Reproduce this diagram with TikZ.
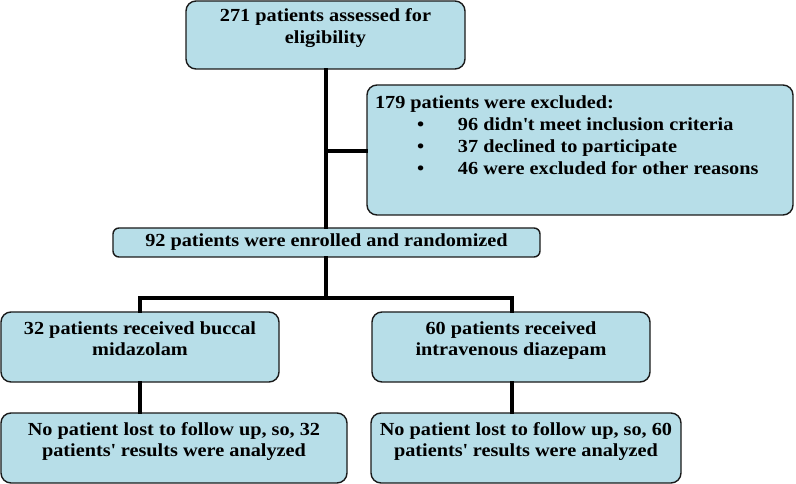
\documentclass[tikz,border=0pt]{standalone}
\usepackage{fontspec}
\setmainfont{Liberation Serif}[FakeStretch=1.1]
\definecolor{boxfill}{HTML}{B7DEE8}
\definecolor{boxline}{HTML}{1A1A1A}
\newcommand{\boxtxt}[4]{\parbox[c][#2][t]{#1}{\centering\rule{0pt}{#3}#4\par}}
\newcommand{\apos}{\textquotesingle}
\tikzset{
  flowbox/.style={draw=boxline, line width=1.4bp, fill=boxfill, rounded corners=10bp, inner sep=0pt, font=\bfseries\fontsize{18.5}{22}\selectfont},
  conn/.style={line width=4bp, draw=black, line cap=rect}
}
\begin{document}
\begin{tikzpicture}[x=1bp,y=-1bp]
\useasboundingbox (0,0) rectangle (796,484);
\node[flowbox] (assess) at (325.5,35) {\boxtxt{279bp}{68bp}{21bp}{271 patients assessed for\\eligibility}};
\node[flowbox] (excl) at (580,150) {\parbox[c][130bp][t]{426bp}{\raggedright\hspace*{8bp}\rule{0pt}{24bp}179 patients were excluded:\\
\hspace*{50bp}\makebox[41bp][l]{•}96 didn\apos t meet inclusion criteria\\
\hspace*{50bp}\makebox[41bp][l]{•}37 declined to participate\\
\hspace*{50bp}\makebox[41bp][l]{•}46 were excluded for other reasons\par}};
\node[flowbox, rounded corners=6bp] (enrol) at (326.5,242.5) {\boxtxt{427bp}{29bp}{19bp}{92 patients were enrolled and randomized}};
\node[flowbox] (buccal) at (140,347) {\boxtxt{278bp}{70bp}{22bp}{32 patients received buccal\\midazolam}};
\node[flowbox] (iv) at (511,347) {\boxtxt{278bp}{70bp}{22bp}{60 patients received\\intravenous diazepam}};
\node[flowbox] (resL) at (174,448) {\boxtxt{346bp}{70bp}{22bp}{No patient lost to follow up, so, 32\\patients\apos{} results were analyzed}};
\node[flowbox] (resR) at (526,448) {\boxtxt{310bp}{70bp}{22bp}{No patient lost to follow up, so, 60\\patients\apos{} results were analyzed}};
\coordinate (trunk) at (326,0);
\coordinate (split) at (326,298);
\coordinate (lx) at (140,0);
\coordinate (rx) at (512,0);
\draw[conn] (assess.south -| trunk) -- (enrol.north -| trunk);
\draw[conn] (excl.west |- 0,151) -- (trunk |- 0,151);
\draw[conn] (enrol.south -| trunk) -- (split);
\draw[conn] (split -| lx) -- (split -| rx);
\draw[conn] (split -| lx) -- (buccal.north -| lx);
\draw[conn] (split -| rx) -- (iv.north -| rx);
\draw[conn] (buccal.south -| lx) -- (resL.north -| lx);
\draw[conn] (iv.south -| rx) -- (resR.north -| rx);
\end{tikzpicture}
\end{document}
